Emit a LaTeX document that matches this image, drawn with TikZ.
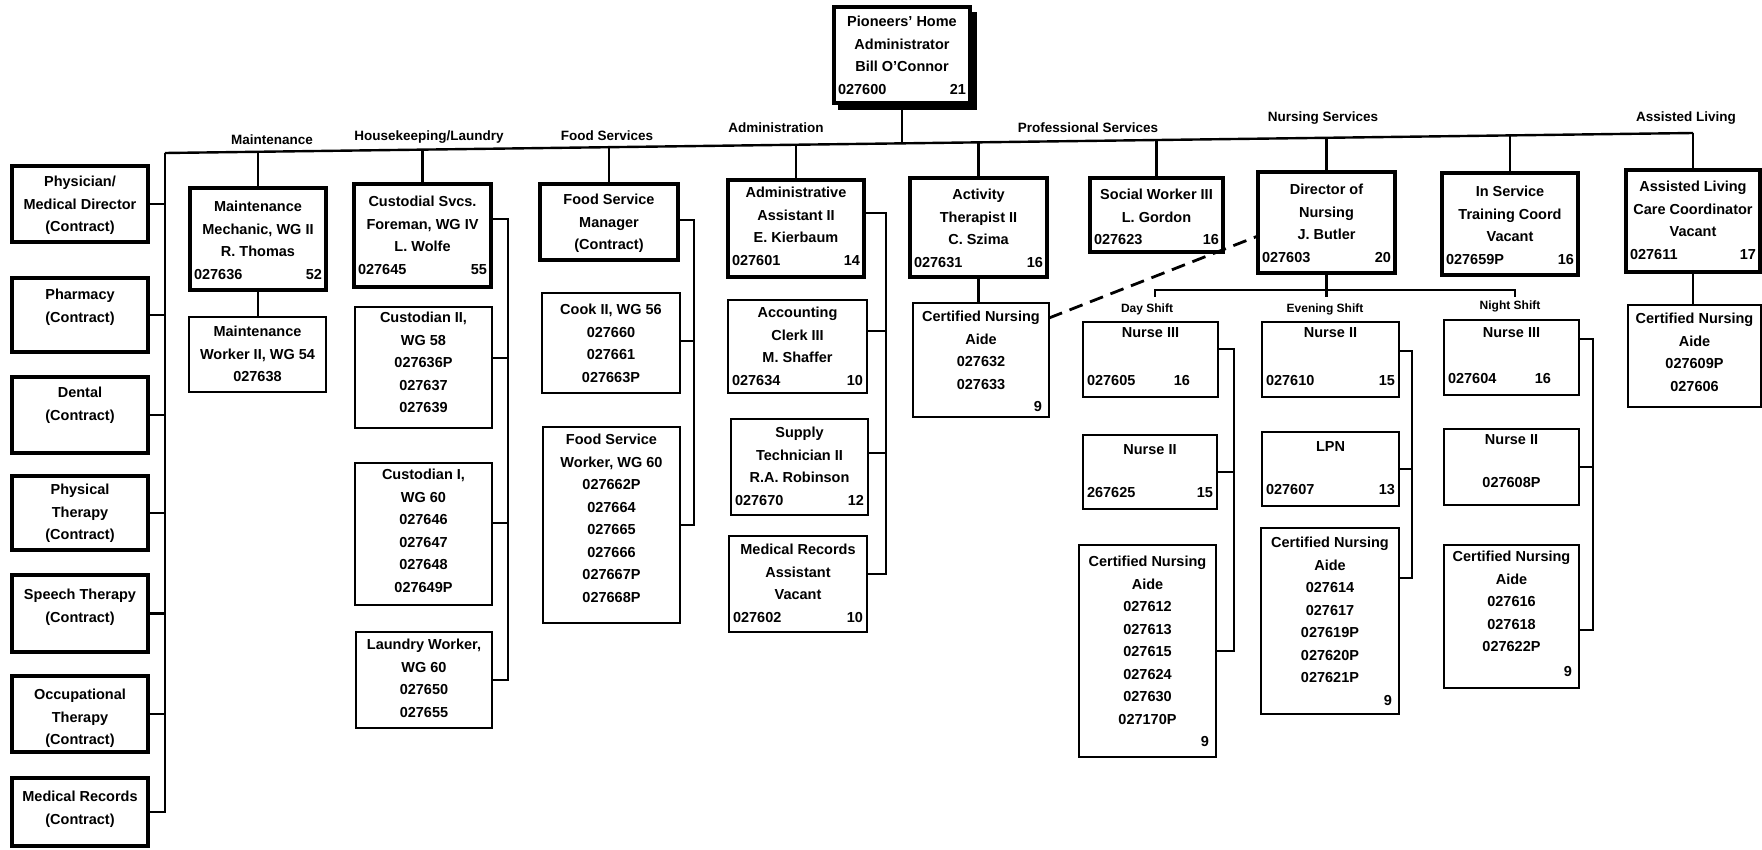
\documentclass[tikz,border=0pt]{standalone}
\usepackage{fontspec}
\setmainfont{Liberation Sans}
\usetikzlibrary{calc}

% text inside the position boxes
\newcommand{\boxfont}{\fontsize{14.5}{22.5}\selectfont\bfseries}
% bottom row: position number left, range right
\newcommand{\numrow}[2]{\par\makebox[\linewidth]{\hspace{4pt}#1\hfill#2\hspace{4pt}}}
% lone range number at the lower right
\newcommand{\rnum}[1]{\par\makebox[\linewidth]{\hfill#1\hspace{7pt}}}
% #1 name, #2 style, #3 x, #4 y (top left), #5 width, #6 height,
% #7 offset of the first text line, #8 text
\newcommand{\orgbox}[8]{%
  \node[#2, anchor=north west, inner sep=0pt, outer sep=0pt,
        minimum width=#5pt, minimum height=#6pt] (#1) at (#3,#4)
    {\parbox[c][#6pt][t]{#5pt}{\boxfont\centering
      \vspace*{\dimexpr#7pt-5.7pt\relax}#8\par\vspace*{11pt}}};}

\tikzset{
  thinbox/.style={draw, line width=2pt},
  thickbox/.style={draw, line width=3.6pt},
  conn/.style={line width=2.4pt},
  hdr/.style={font=\fontsize{13.5}{16}\selectfont\bfseries, inner sep=0pt},
  shiftlbl/.style={font=\fontsize{12}{14}\selectfont\bfseries, inner sep=0pt},
}

\begin{document}
\begin{tikzpicture}[x=1pt, y=-1pt]
\useasboundingbox (0,0) rectangle (1762,850);

% ---------------- top position ----------------
\orgbox{top}{thickbox}{834}{7}{136}{96}{15}{Pioneers' Home\\Administrator\\Bill O'Connor\numrow{027600}{21}}
\fill ($(top.south west)+(4,0)$) rectangle ($(top.south east)+(7,7)$);
\fill ($(top.north east)+(0,5)$) rectangle ($(top.south east)+(7,7)$);

% ---------------- contract services ----------------
\orgbox{phys}{thickbox}{12}{166}{136}{76}{16}{Physician/\\Medical Director\\(Contract)}
\orgbox{pharm}{thickbox}{12}{278}{136}{74}{17}{Pharmacy\\(Contract)}
\orgbox{dental}{thickbox}{12}{377}{136}{76}{16}{Dental\\(Contract)}
\orgbox{ptherapy}{thickbox}{12}{476}{136}{74}{14}{Physical\\Therapy\\(Contract)}
\orgbox{speech}{thickbox}{12}{575}{136}{77}{20}{Speech Therapy\\(Contract)}
\orgbox{otherapy}{thickbox}{12}{676}{136}{76}{19}{Occupational\\Therapy\\(Contract)}
\orgbox{mrec}{thickbox}{12}{778}{136}{68}{19}{Medical Records\\(Contract)}

% ---------------- maintenance ----------------
\orgbox{mech}{thickbox}{190}{188}{136}{102}{19}{Maintenance\\Mechanic, WG II\\R. Thomas\numrow{027636}{52}}
\orgbox{mworker}{thinbox}{189}{317}{137}{75}{15}{Maintenance\\Worker II, WG 54\\027638}

% ---------------- housekeeping / laundry ----------------
\orgbox{fore}{thickbox}{354}{184}{137}{103}{18}{Custodial Svcs.\\Foreman, WG IV\\L. Wolfe\numrow{027645}{55}}
\orgbox{custB}{thinbox}{355}{307}{137}{121}{11}{Custodian II,\\WG 58\\027636P\\027637\\027639}
\orgbox{custA}{thinbox}{355}{463}{137}{142}{12}{Custodian I,\\WG 60\\027646\\027647\\027648\\027649P}
\orgbox{laundry}{thinbox}{356}{632}{136}{96}{13}{Laundry Worker,\\WG 60\\027650\\027655}

% ---------------- food services ----------------
\orgbox{fmgr}{thickbox}{540}{184}{138}{76}{16}{Food Service\\Manager\\(Contract)}
\orgbox{cook}{thinbox}{542}{293}{138}{100}{17}{Cook II, WG 56\\027660\\027661\\027663P}
\orgbox{fsw}{thinbox}{543}{427}{137}{196}{13}{Food Service\\Worker, WG 60\\027662P\\027664\\027665\\027666\\027667P\\027668P}

% ---------------- administration ----------------
\orgbox{adm}{thickbox}{728}{180}{136}{97}{13}{Administrative\\Assistant II\\E. Kierbaum\numrow{027601}{14}}
\orgbox{acct}{thinbox}{728}{300}{139}{93}{13}{Accounting\\Clerk III\\M. Shaffer\numrow{027634}{10}}
\orgbox{supply}{thinbox}{731}{419}{137}{96}{14}{Supply\\Technician II\\R.A. Robinson\numrow{027670}{12}}
\orgbox{mrasst}{thinbox}{729}{536}{138}{96}{14}{Medical Records\\Assistant\\Vacant\numrow{027602}{10}}

% ---------------- professional services ----------------
\orgbox{act}{thickbox}{910}{178}{137}{99}{17}{Activity\\Therapist II\\C. Szima\numrow{027631}{16}}
\orgbox{pcna}{thinbox}{913}{303}{136}{114}{14}{Certified Nursing\\Aide\\027632\\027633\par\vfill\rnum{9}}
\orgbox{sw}{thickbox}{1090}{178}{133}{74}{17}{Social Worker III\\L. Gordon\numrow{027623}{16}}

% ---------------- nursing services ----------------
\orgbox{dir}{thickbox}{1258}{172}{137}{101}{18}{Director of\\Nursing\\J. Butler\numrow{027603}{20}}
\orgbox{train}{thickbox}{1442}{173}{136}{102}{19}{In Service\\Training Coord\\Vacant\numrow{027659P}{16}}

\orgbox{dnthree}{thinbox}{1083}{322}{135}{75}{11}{Nurse III\par\vfill\numrow{027605}{16\hspace{24pt}}}
\orgbox{dntwo}{thinbox}{1083}{435}{134}{74}{15}{Nurse II\par\vfill\numrow{267625}{15}}
\orgbox{dcna}{thinbox}{1079}{545}{137}{212}{17}{Certified Nursing\\Aide\\027612\\027613\\027615\\027624\\027630\\027170P\par\vfill\rnum{9}}

\orgbox{entwo}{thinbox}{1262}{322}{137}{75}{11}{Nurse II\par\vfill\numrow{027610}{15}}
\orgbox{lpn}{thinbox}{1262}{432}{137}{74}{15}{LPN\par\vfill\numrow{027607}{13}}
\orgbox{ecna}{thinbox}{1261}{528}{138}{186}{15}{Certified Nursing\\Aide\\027614\\027617\\027619P\\027620P\\027621P\par\vfill\rnum{9}}

\orgbox{nnthree}{thinbox}{1444}{320}{135}{75}{13}{Nurse III\par\vfill\numrow{027604}{16\hspace{24pt}}}
\orgbox{nntwo}{thinbox}{1444}{429}{135}{76}{11}{Nurse II\par\vfill 027608P\par\vspace{6pt}}
\orgbox{ncna}{thinbox}{1444}{545}{135}{143}{12}{Certified Nursing\\Aide\\027616\\027618\\027622P\par\vfill\rnum{9}}

% ---------------- assisted living ----------------
\orgbox{al}{thickbox}{1626}{170}{134}{102}{17}{Assisted Living\\Care Coordinator\\Vacant\numrow{027611}{17}}
\orgbox{alcna}{thinbox}{1628}{305}{133}{102}{14}{Certified Nursing\\Aide\\027609P\\027606}

% ---------------- main bus and section labels ----------------
\coordinate (busL) at (165,153);
\coordinate (busR) at (1693,133);
\draw[conn] (busL) -- (busR);
\draw[conn] (top.south) -- (top.south |- 0,143.3);
\draw[conn] (mech.north) -- (mech.north |- 0,151.8);
\draw[conn] (fore.north) -- (fore.north |- 0,149.6);
\draw[conn] (fmgr.north) -- (fmgr.north |- 0,147.2);
\draw[conn] (adm.north) -- (adm.north |- 0,144.7);
\draw[conn] (act.north) -- (act.north |- 0,142.3);
\draw[conn] (sw.north) -- (sw.north |- 0,140.0);
\draw[conn] (dir.north) -- (dir.north |- 0,137.8);
\draw[conn] (train.north) -- (train.north |- 0,135.3);
\draw[conn] (al.north) -- (busR);

\node[hdr] (lmaint) at (272,140) {Maintenance};
\node[hdr] (lhouse) at (429,137) {Housekeeping/Laundry};
\node[hdr] (lfood)  at (607,136) {Food Services};
\node[hdr] (ladmin) at (776,128) {Administration};
\node[hdr] (lprof)  at (1088,128) {Professional Services};
\node[hdr] (lnurse) at (1323,118) {Nursing Services};
\node[hdr] (lliving) at (1686,118) {Assisted Living};

% ---------------- contract services spine ----------------
\draw[conn] (busL) -- (mrec.east -| busL) -- (mrec.east);
\foreach \b in {phys, pharm, dental, ptherapy, speech, otherapy}
  \draw[conn] (\b.east) -- (\b.east -| busL);

% ---------------- single reports ----------------
\draw[conn] (mech.south) -- (mworker.north -| mech.south);
\draw[conn] (act.south) -- (pcna.north -| act.south);
\draw[conn] (al.south) -- (alcna.north -| al.south);
\draw[line width=2.8pt, dash pattern=on 14pt off 8pt] (pcna.east |- 0,318) -- (dir.west |- 0,236);

% ---------------- housekeeping spine ----------------
\coordinate (hkx) at (508,0);
\draw[conn] (fore.east |- 0,219) -| (laundry.east -| hkx) -- (laundry.east);
\draw[conn] (custB.east |- 0,358) -- (hkx |- 0,358);
\draw[conn] (custA.east |- 0,523) -- (hkx |- 0,523);

% ---------------- food services spine ----------------
\coordinate (fdx) at (694,0);
\draw[conn] (fmgr.east |- 0,220) -| (fdx |- 0,525) -- (fsw.east |- 0,525);
\draw[conn] (cook.east |- 0,341) -- (fdx |- 0,341);

% ---------------- administration spine ----------------
\coordinate (adx) at (886,0);
\draw[conn] (adm.east |- 0,213) -| (adx |- 0,574) -- (mrasst.east |- 0,574);
\draw[conn] (acct.east |- 0,331) -- (adx |- 0,331);
\draw[conn] (supply.east |- 0,453) -- (adx |- 0,453);

% ---------------- nursing shifts ----------------
\coordinate (dayT) at (1155,297);
\coordinate (nightT) at (1515,297);
\draw[conn] (dayT) |- (nightT |- 0,290) -- (nightT);
\draw[conn] (dir.south) -- (dir.south |- 0,297);
\node[shiftlbl] (lday) at (1147,309) {Day Shift};
\node[shiftlbl] (leve) at (1325,309) {Evening Shift};
\node[shiftlbl] (lnight) at (1510,306) {Night Shift};

\coordinate (dayx) at (1234,0);
\draw[conn] (dnthree.east |- 0,349) -| (dayx |- dcna.east) -- (dcna.east);
\draw[conn] (dntwo.east) -- (dntwo.east -| dayx);

\coordinate (evex) at (1412,0);
\draw[conn] (entwo.east |- 0,351) -| (evex |- 0,578) -- (ecna.east |- 0,578);
\draw[conn] (lpn.east) -- (lpn.east -| evex);

\coordinate (nightx) at (1593,0);
\draw[conn] (nnthree.east |- 0,339) -| (nightx |- 0,630) -- (ncna.east |- 0,630);
\draw[conn] (nntwo.east) -- (nntwo.east -| nightx);
\end{tikzpicture}
\end{document}
